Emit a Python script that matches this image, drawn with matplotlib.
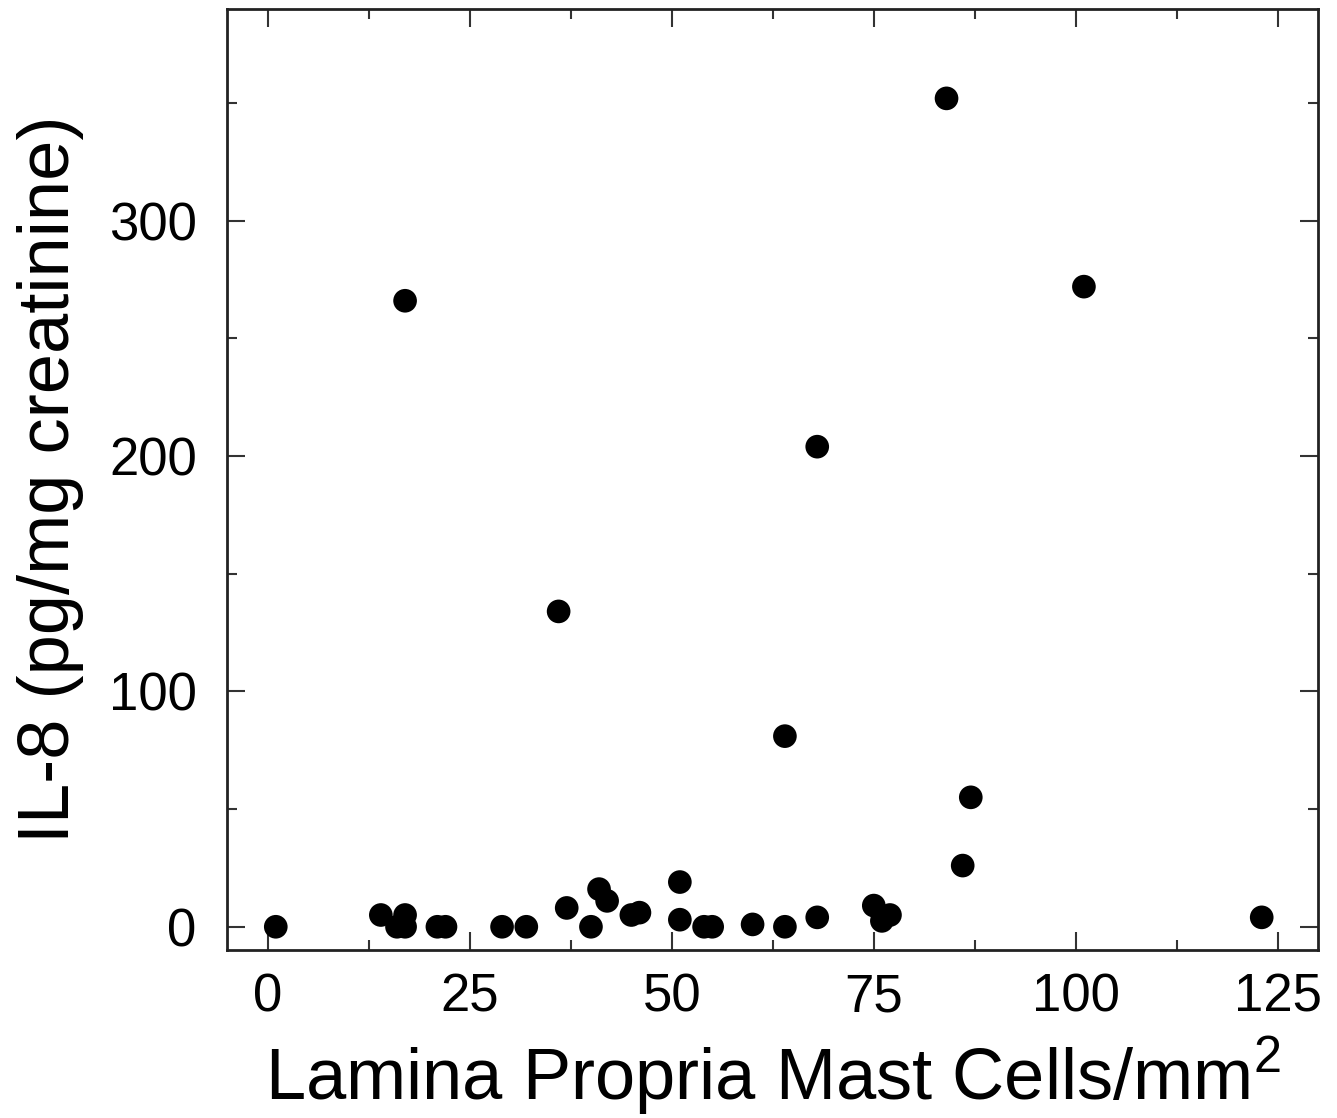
import matplotlib
matplotlib.use("Agg")
import matplotlib.pyplot as plt
from matplotlib.ticker import MultipleLocator

plt.rcParams["font.family"] = ["Liberation Sans", "DejaVu Sans"]
plt.rcParams["mathtext.fontset"] = "custom"
plt.rcParams["mathtext.rm"] = "Liberation Sans"
plt.rcParams["mathtext.it"] = "Liberation Sans"

# mast cells per mm^2 vs urinary IL-8
mast_cells = [1, 14, 17, 16, 17, 21, 22, 29, 32, 37, 40, 41, 42, 45, 46,
              51, 51, 54, 55, 60, 64, 68, 75, 76, 77, 86, 87, 123,
              17, 36, 64, 68, 84, 101]
il8 = [0, 5, 5, 0, 0, 0, 0, 0, 0, 8, 0, 16, 11, 5, 6,
       19, 3, 0, 0, 1, 0, 4, 9, 2.5, 5, 26, 55, 4,
       266, 134, 81, 204, 352, 272]

fig = plt.figure(figsize=(13.37, 11.18), dpi=100)
ax = fig.add_axes([0.170, 0.150, 0.816, 0.842])

ax.scatter(mast_cells, il8, s=290, color="black", edgecolors="none", zorder=3)

ax.set_xlim(-5, 130)
ax.set_ylim(-10, 390)
ax.xaxis.set_major_locator(MultipleLocator(25))
ax.xaxis.set_minor_locator(MultipleLocator(12.5))
ax.yaxis.set_major_locator(MultipleLocator(100))
ax.yaxis.set_minor_locator(MultipleLocator(50))

ax.tick_params(which="both", direction="in", top=True, right=True,
               color="#333333", width=1.5)
ax.tick_params(which="major", length=13, labelsize=38)
ax.tick_params(axis="x", which="major", pad=16)
ax.tick_params(axis="y", which="major", pad=22)
ax.tick_params(which="minor", length=7)
for sp in ax.spines.values():
    sp.set_linewidth(2)
    sp.set_color("#222222")

ax.set_xlabel("Lamina Propria Mast Cells/mm$^2$", fontsize=52, labelpad=8)
ax.set_ylabel("IL-8 (pg/mg creatinine)", fontsize=52, labelpad=18)

plt.savefig("out.png", dpi=100)
plt.close()
